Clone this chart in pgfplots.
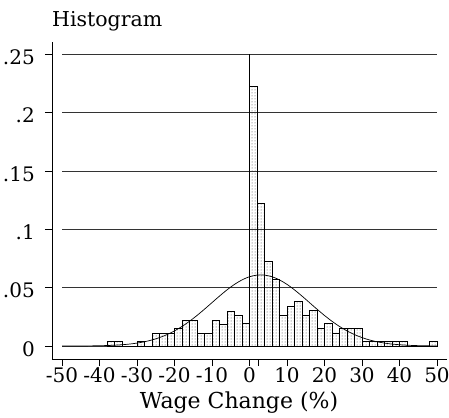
\documentclass[border=0pt]{standalone}
\usepackage{pgfplots}
\pgfplotsset{compat=1.18}
\usepackage{fontspec}
\setmainfont{DejaVu Serif}
\usetikzlibrary{patterns}
\begin{document}
\begin{tikzpicture}
\useasboundingbox (-52pt,-58pt) rectangle (397pt,359pt);
\begin{axis}[
  scale only axis, width=395pt, height=317pt,
  at={(0pt,0pt)}, anchor=south west,
  xmin=-52.67, xmax=52.67, ymin=-0.0111, ymax=0.2606,
  axis lines*=left,
  axis line style={black, line width=0.8pt},
  tick style={black, line width=0.8pt},
  tick align=outside, major tick length=7pt,
  xtick={-50,-40,-30,-20,-10,0,10,20,30,40,50},
  xticklabels={-50,-40,-30,-20,-10,0,10,20,30,40,50},
  extra x ticks={2.3}, extra x tick labels={},
  ytick={0,0.05,0.1,0.15,0.2,0.25},
  yticklabels={0,.05,.1,.15,.2,.25},
  xticklabel style={font=\fontsize{20}{23}\selectfont, anchor=base, inner sep=0pt, yshift=-16pt},
  yticklabel style={font=\fontsize{20}{23}\selectfont, anchor=east, inner sep=0pt, xshift=-10pt, yshift=-3pt},
  xlabel={Wage Change (\%)},
  xlabel style={font=\fontsize{22}{25}\selectfont, at={(axis description cs:0.4734,0)}, anchor=base, inner sep=0pt, yshift=-49pt},
  clip=false,
]
% grid lines from -50 to 50
\addplot[black!80, line width=0.8pt] coordinates {(-50,0) (50,0)};
\addplot[black!80, line width=0.8pt] coordinates {(-50,0.05) (50,0.05)};
\addplot[black!80, line width=0.8pt] coordinates {(-50,0.10) (50,0.10)};
\addplot[black!80, line width=0.8pt] coordinates {(-50,0.15) (50,0.15)};
\addplot[black!80, line width=0.8pt] coordinates {(-50,0.20) (50,0.20)};
\addplot[black!80, line width=0.8pt] coordinates {(-50,0.25) (50,0.25)};
% vertical reference line at 0
\addplot[black, line width=0.8pt] coordinates {(0,0) (0,0.25)};
% histogram (fraction, bin width 2)
\addplot[ybar interval, draw=black, line width=0.8pt, pattern=dots, pattern color=black!75] coordinates {
(-38,0.0037) (-36,0.0037) (-34,0) (-32,0) (-30,0.0037) (-28,0)
(-26,0.0111) (-24,0.0111) (-22,0.0111) (-20,0.0149) (-18,0.0223) (-16,0.0223)
(-14,0.0111) (-12,0.0111) (-10,0.0223) (-8,0.0186) (-6,0.0300) (-4,0.0263)
(-2,0.0190) (0,0.2222) (2,0.1222) (4,0.0723) (6,0.0571) (8,0.0263)
(10,0.0340) (12,0.0381) (14,0.0263) (16,0.0303) (18,0.0151) (20,0.0190)
(22,0.0112) (24,0.0151) (26,0.0151) (28,0.0151) (30,0.0037) (32,0.0037)
(34,0.0037) (36,0.0037) (38,0.0037) (40,0.0037) (42,0) (44,0) (46,0)
(48,0.0037) (50,0.0037)
};
% normal density overlay
\addplot[black, line width=0.7pt, smooth] coordinates {
(-50,0.0000166) (-46,0.0000547) (-42,0.000164) (-40,0.000275) (-38,0.000449)
(-36,0.000716) (-34,0.001116) (-32,0.0017) (-30,0.00253) (-28,0.00368)
(-26,0.00522) (-24,0.00725) (-22,0.00982) (-20,0.0130) (-18,0.01681)
(-16,0.02124) (-14,0.02622) (-12,0.03161) (-10,0.03722) (-8,0.04283)
(-6,0.04814) (-4,0.05286) (-2,0.0567) (0,0.05942) (2,0.06082) (3,0.0610)
(4,0.06082) (6,0.05942) (8,0.0567) (10,0.05286) (12,0.04814) (14,0.04283)
(16,0.03722) (18,0.03161) (20,0.02622) (22,0.02124) (24,0.01681) (26,0.0130)
(28,0.00982) (30,0.00725) (32,0.00522) (34,0.00368) (36,0.00253) (38,0.0017)
(40,0.001116) (42,0.000716) (44,0.000449) (46,0.000275) (48,0.000164) (50,0.0000959)
};
\end{axis}
\node[anchor=base west, inner sep=0pt, font=\fontsize{20.5}{24}\selectfont] at (0pt,332.3pt) {Histogram};
\end{tikzpicture}
\end{document}
